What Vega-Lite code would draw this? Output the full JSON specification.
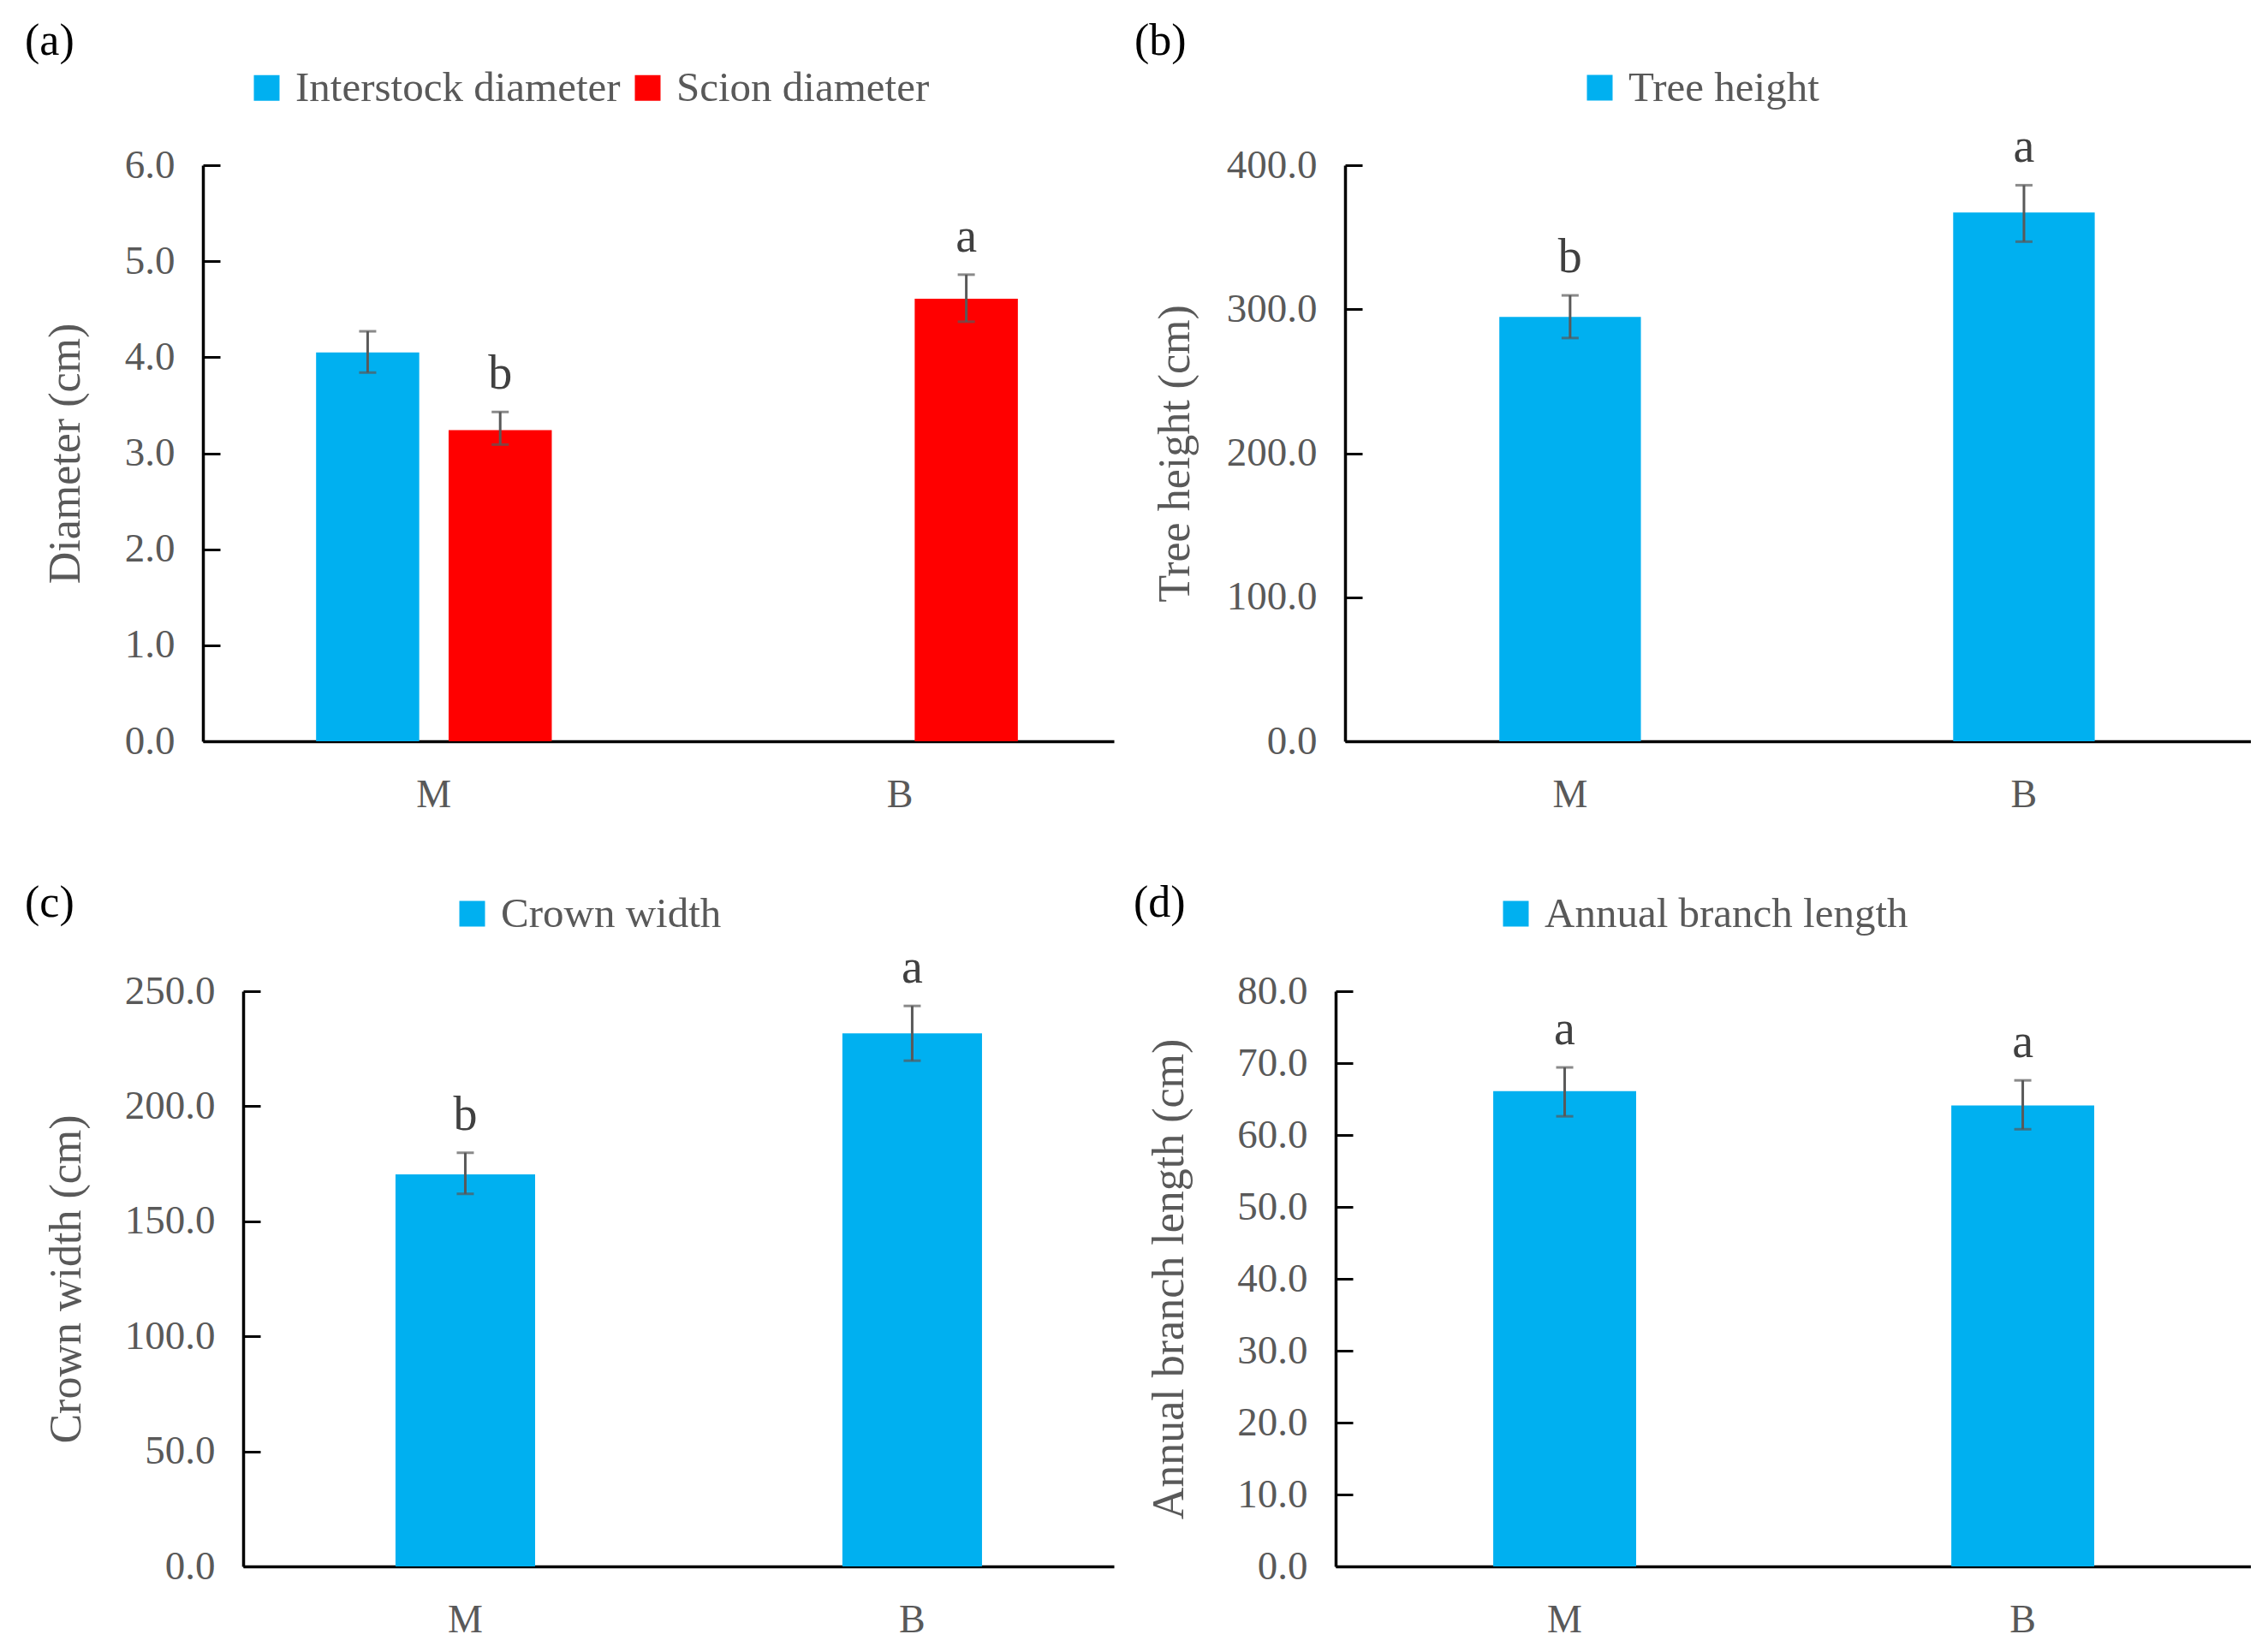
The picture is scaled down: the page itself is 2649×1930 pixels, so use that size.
{
  "$schema": "https://vega.github.io/schema/vega-lite/v6.json",
  "background": "white",
  "padding": {"left": 4, "top": 22, "right": 0, "bottom": 0},
  "config": {
    "view": {"stroke": null},
    "font": "Liberation Serif",
    "axis": {"grid": false, "labelFont": "Liberation Serif", "titleFont": "Liberation Serif", "labelColor": "#595959", "titleColor": "#595959", "titleFontWeight": "normal", "domainColor": "black", "domainWidth": 3.5, "tickColor": "black", "tickWidth": 3},
    "axisY": {"tickSize": -20, "labelPadding": 53, "labelFontSize": 47, "titleFontSize": 52},
    "axisX": {"ticks": false, "labelPadding": 40, "labelFontSize": 46, "labelAngle": 0, "title": null},
    "legend": {"orient": "none", "direction": "horizontal", "title": null, "symbolType": "square", "symbolSize": 900, "symbolStrokeWidth": 0, "labelFontSize": 49, "labelFont": "Liberation Serif", "labelColor": "#595959", "labelOffset": 9, "columnPadding": 7, "padding": 0, "labelLimit": 0, "symbolOpacity": 1},
    "title": {"anchor": "start", "frame": "group", "fontSize": 52, "font": "Liberation Serif", "fontWeight": "normal", "color": "black"}
  },
  "resolve": {"scale": {"color": "independent", "x": "independent", "y": "independent", "xOffset": "independent"}, "legend": {"color": "independent"}},
  "spacing": 78,
  "vconcat": [
    {
      "spacing": 24,
      "resolve": {"scale": {"color": "independent", "x": "independent", "y": "independent", "xOffset": "independent"}, "legend": {"color": "independent"}},
      "hconcat": [
        {"width": 1, "height": 1, "data": {"values": []}, "mark": "point"},
        {
          "width": 1064, "height": 673,
          "title": {"text": "(a)", "dx": -208, "offset": 3},
          "data": {"values": [
            {"g": "M", "s": "Interstock diameter", "v": 4.05, "lo": 3.84, "hi": 4.27, "l": ""},
            {"g": "M", "s": "Scion diameter", "v": 3.24, "lo": 3.09, "hi": 3.43, "l": "b"},
            {"g": "B", "s": "Scion diameter", "v": 4.61, "lo": 4.37, "hi": 4.86, "l": "a"}
          ]},
          "encoding": {
            "x": {"field": "g", "type": "nominal", "scale": {"domain": ["M", "B"], "paddingInner": 0.4943, "paddingOuter": 0.2244, "align": 0.541}, "axis": {}},
            "xOffset": {"field": "s", "type": "nominal", "scale": {"domain": ["Interstock diameter", "Scion diameter"], "paddingInner": 0.2216, "paddingOuter": 0}}
          },
          "layer": [
            {"mark": {"type": "bar"},
             "encoding": {
               "y": {"field": "v", "type": "quantitative", "title": "Diameter (cm)", "scale": {"domain": [0, 6], "nice": false}, "axis": {"values": [0, 1, 2, 3, 4, 5, 6], "format": ".1f", "titlePadding": 42}},
               "color": {"field": "s", "type": "nominal", "scale": {"domain": ["Interstock diameter", "Scion diameter"], "range": ["#00B0F0", "#FF0000"]}, "legend": {"legendX": 50, "legendY": -115}}
             }},
            {"mark": {"type": "rule", "color": "#595959", "strokeWidth": 3},
             "encoding": {"y": {"field": "lo", "type": "quantitative", "title": "Diameter (cm)"}, "y2": {"field": "hi"}}},
            {"mark": {"type": "tick", "orient": "horizontal", "color": "#595959", "thickness": 3, "size": 20},
             "encoding": {"y": {"field": "hi", "type": "quantitative", "title": "Diameter (cm)"}}},
            {"mark": {"type": "tick", "orient": "horizontal", "color": "#595959", "thickness": 3, "size": 20},
             "encoding": {"y": {"field": "lo", "type": "quantitative", "title": "Diameter (cm)"}}},
            {"mark": {"type": "text", "baseline": "alphabetic", "dy": -27, "fontSize": 56, "color": "#404040", "font": "Liberation Serif"},
             "encoding": {"y": {"field": "hi", "type": "quantitative", "title": "Diameter (cm)"}, "text": {"field": "l"}}}
          ]
        },
        {
          "width": 1058, "height": 673,
          "title": {"text": "(b)", "dx": -246, "offset": 3},
          "data": {"values": [
            {"g": "M", "s": "Tree height", "v": 294.6, "lo": 280.0, "hi": 309.6, "l": "b"},
            {"g": "B", "s": "Tree height", "v": 367.1, "lo": 346.9, "hi": 386.1, "l": "a"}
          ]},
          "encoding": {
            "x": {"field": "g", "type": "nominal", "scale": {"domain": ["M", "B"], "paddingInner": 0.6881, "paddingOuter": 0.342, "align": 0.497}, "axis": {}}
          },
          "layer": [
            {"mark": {"type": "bar"},
             "encoding": {
               "y": {"field": "v", "type": "quantitative", "title": "Tree height (cm)", "scale": {"domain": [0, 400], "nice": false}, "axis": {"values": [0, 100, 200, 300, 400], "format": ".1f", "titlePadding": 33}},
               "color": {"field": "s", "type": "nominal", "scale": {"domain": ["Tree height"], "range": ["#00B0F0"]}, "legend": {"legendX": 273, "legendY": -115}}
             }},
            {"mark": {"type": "rule", "color": "#595959", "strokeWidth": 3},
             "encoding": {"y": {"field": "lo", "type": "quantitative", "title": "Tree height (cm)"}, "y2": {"field": "hi"}}},
            {"mark": {"type": "tick", "orient": "horizontal", "color": "#595959", "thickness": 3, "size": 20},
             "encoding": {"y": {"field": "hi", "type": "quantitative", "title": "Tree height (cm)"}}},
            {"mark": {"type": "tick", "orient": "horizontal", "color": "#595959", "thickness": 3, "size": 20},
             "encoding": {"y": {"field": "lo", "type": "quantitative", "title": "Tree height (cm)"}}},
            {"mark": {"type": "text", "baseline": "alphabetic", "dy": -27, "fontSize": 56, "color": "#404040", "font": "Liberation Serif"},
             "encoding": {"y": {"field": "hi", "type": "quantitative", "title": "Tree height (cm)"}, "text": {"field": "l"}}}
          ]
        }
      ]
    },
    {
      "spacing": 23,
      "resolve": {"scale": {"color": "independent", "x": "independent", "y": "independent", "xOffset": "independent"}, "legend": {"color": "independent"}},
      "hconcat": [
        {"width": 2, "height": 1, "data": {"values": []}, "mark": "point"},
        {
          "width": 1017, "height": 672,
          "title": {"text": "(c)", "dx": -255, "offset": -39},
          "data": {"values": [
            {"g": "M", "s": "Crown width", "v": 170.4, "lo": 161.9, "hi": 179.8, "l": "b"},
            {"g": "B", "s": "Crown width", "v": 231.7, "lo": 219.8, "hi": 243.6, "l": "a"}
          ]},
          "encoding": {
            "x": {"field": "g", "type": "nominal", "scale": {"domain": ["M", "B"], "paddingInner": 0.6876, "paddingOuter": 0.318, "align": 0.536}, "axis": {}}
          },
          "layer": [
            {"mark": {"type": "bar"},
             "encoding": {
               "y": {"field": "v", "type": "quantitative", "title": "Crown width (cm)", "scale": {"domain": [0, 250], "nice": false}, "axis": {"values": [0, 50, 100, 150, 200, 250], "format": ".1f", "titlePadding": 41}},
               "color": {"field": "s", "type": "nominal", "scale": {"domain": ["Crown width"], "range": ["#00B0F0"]}, "legend": {"legendX": 243, "legendY": -115}}
             }},
            {"mark": {"type": "rule", "color": "#595959", "strokeWidth": 3},
             "encoding": {"y": {"field": "lo", "type": "quantitative", "title": "Crown width (cm)"}, "y2": {"field": "hi"}}},
            {"mark": {"type": "tick", "orient": "horizontal", "color": "#595959", "thickness": 3, "size": 20},
             "encoding": {"y": {"field": "hi", "type": "quantitative", "title": "Crown width (cm)"}}},
            {"mark": {"type": "tick", "orient": "horizontal", "color": "#595959", "thickness": 3, "size": 20},
             "encoding": {"y": {"field": "lo", "type": "quantitative", "title": "Crown width (cm)"}}},
            {"mark": {"type": "text", "baseline": "alphabetic", "dy": -27, "fontSize": 56, "color": "#404040", "font": "Liberation Serif"},
             "encoding": {"y": {"field": "hi", "type": "quantitative", "title": "Crown width (cm)"}, "text": {"field": "l"}}}
          ]
        },
        {
          "width": 1069, "height": 672,
          "title": {"text": "(d)", "dx": -236, "offset": -39},
          "data": {"values": [
            {"g": "M", "s": "Annual branch length", "v": 66.1, "lo": 62.6, "hi": 69.4, "l": "a"},
            {"g": "B", "s": "Annual branch length", "v": 64.1, "lo": 60.8, "hi": 67.6, "l": "a"}
          ]},
          "encoding": {
            "x": {"field": "g", "type": "nominal", "scale": {"domain": ["M", "B"], "paddingInner": 0.688, "paddingOuter": 0.343, "align": 0.5015}, "axis": {}}
          },
          "layer": [
            {"mark": {"type": "bar"},
             "encoding": {
               "y": {"field": "v", "type": "quantitative", "title": "Annual branch length (cm)", "scale": {"domain": [0, 80], "nice": false}, "axis": {"values": [0, 10, 20, 30, 40, 50, 60, 70, 80], "format": ".1f", "titlePadding": 52}},
               "color": {"field": "s", "type": "nominal", "scale": {"domain": ["Annual branch length"], "range": ["#00B0F0"]}, "legend": {"legendX": 186, "legendY": -115}}
             }},
            {"mark": {"type": "rule", "color": "#595959", "strokeWidth": 3},
             "encoding": {"y": {"field": "lo", "type": "quantitative", "title": "Annual branch length (cm)"}, "y2": {"field": "hi"}}},
            {"mark": {"type": "tick", "orient": "horizontal", "color": "#595959", "thickness": 3, "size": 20},
             "encoding": {"y": {"field": "hi", "type": "quantitative", "title": "Annual branch length (cm)"}}},
            {"mark": {"type": "tick", "orient": "horizontal", "color": "#595959", "thickness": 3, "size": 20},
             "encoding": {"y": {"field": "lo", "type": "quantitative", "title": "Annual branch length (cm)"}}},
            {"mark": {"type": "text", "baseline": "alphabetic", "dy": -27, "fontSize": 56, "color": "#404040", "font": "Liberation Serif"},
             "encoding": {"y": {"field": "hi", "type": "quantitative", "title": "Annual branch length (cm)"}, "text": {"field": "l"}}}
          ]
        }
      ]
    }
  ]
}
